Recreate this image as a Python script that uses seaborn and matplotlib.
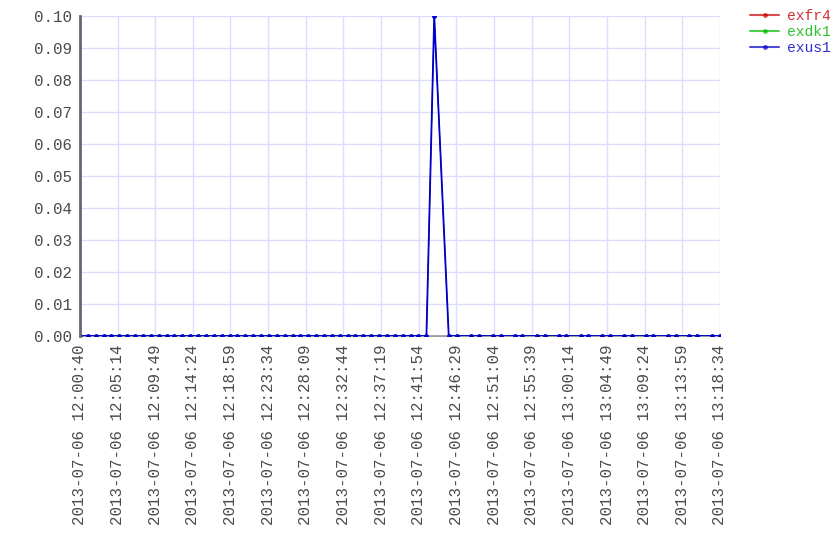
import pandas as pd
import numpy as np
import matplotlib

matplotlib.use("Agg")
import matplotlib.pyplot as plt
from matplotlib.lines import Line2D
import seaborn as sns

sns.set_theme(style="white")
plt.rcParams["font.family"] = ["Liberation Mono", "DejaVu Sans Mono"]

# sample times (2013-07-06)
times = [
    "12:00:40", "12:01:37", "12:02:35", "12:03:32", "12:04:30", "12:05:27",
    "12:06:25", "12:07:22", "12:08:20", "12:09:17", "12:10:15", "12:11:12",
    "12:12:10", "12:13:07", "12:14:05", "12:15:02", "12:16:00", "12:16:57",
    "12:17:55", "12:18:52", "12:19:50", "12:20:47", "12:21:45", "12:22:42",
    "12:23:40", "12:24:37", "12:25:35", "12:26:32", "12:27:30", "12:28:27",
    "12:29:25", "12:30:22", "12:31:20", "12:32:17", "12:33:15", "12:34:12",
    "12:35:10", "12:36:07", "12:37:05", "12:38:02", "12:39:00", "12:39:57",
    "12:40:55", "12:41:52", "12:42:50", "12:43:47", "12:45:33", "12:46:31",
    "12:48:15", "12:49:14", "12:50:54", "12:51:52", "12:53:35", "12:54:30",
    "12:56:15", "12:57:14", "12:58:56", "12:59:52", "13:01:37", "13:02:32",
    "13:04:14", "13:05:11", "13:06:55", "13:07:53", "13:09:34", "13:10:28",
    "13:12:14", "13:13:13", "13:14:51", "13:15:48", "13:17:39", "13:18:34",
]
# every series is zero except a single spike
exus1 = [0.0] * 45 + [0.1] + [0.0] * 26
exfr4 = list(exus1)
exdk1 = list(exus1)

series_names = ["exfr4", "exdk1", "exus1"]
series_colors = ["#cc0000", "#00bb00", "#0000cc"]

tick_labels = [
    "2013-07-06 12:00:40", "2013-07-06 12:05:14", "2013-07-06 12:09:49",
    "2013-07-06 12:14:24", "2013-07-06 12:18:59", "2013-07-06 12:23:34",
    "2013-07-06 12:28:09", "2013-07-06 12:32:44", "2013-07-06 12:37:19",
    "2013-07-06 12:41:54", "2013-07-06 12:46:29", "2013-07-06 12:51:04",
    "2013-07-06 12:55:39", "2013-07-06 13:00:14", "2013-07-06 13:04:49",
    "2013-07-06 13:09:24", "2013-07-06 13:13:59", "2013-07-06 13:18:34",
]

stamps = pd.to_datetime(["2013-07-06 " + t for t in times])
df = pd.concat(
    [
        pd.DataFrame({"time": stamps, "value": vals, "series": name})
        for name, vals in zip(series_names, [exfr4, exdk1, exus1])
    ],
    ignore_index=True,
)

grid_col = "#dcdcff"
text_col = "#4a4a4a"

fig = plt.figure(figsize=(8.4, 5.6), dpi=100)
ax = fig.add_axes([80 / 840, 1 - 336 / 560, 640 / 840, 320 / 560])

# red and green sit underneath blue; draw them thin so they don't tint it
sns.lineplot(
    data=df[df.series != "exus1"], x="time", y="value", hue="series",
    hue_order=series_names[:2], palette=series_colors[:2], marker="o",
    markersize=2, markeredgewidth=0, linewidth=0.6, estimator=None,
    legend=False, ax=ax,
)
sns.lineplot(
    data=df[df.series == "exus1"], x="time", y="value", color=series_colors[2],
    marker="o", markersize=3.5, markeredgewidth=0, linewidth=1.3,
    estimator=None, legend=False, ax=ax,
)

tick_pos = pd.to_datetime(tick_labels)
ax.set_xlim(stamps[0], stamps[-1])
ax.set_xticks(tick_pos)
ax.set_xticklabels(tick_labels, rotation=90)
ax.set_ylim(0, 0.1)
ax.set_yticks(np.arange(0, 0.101, 0.01))
ax.yaxis.set_major_formatter(matplotlib.ticker.FormatStrFormatter("%.2f"))

ax.grid(True, color=grid_col, linewidth=1.0)
ax.set_axisbelow(True)
ax.tick_params(axis="both", colors=grid_col, labelcolor=text_col,
               labelsize=11.3, length=4, width=1, direction="out", pad=2)
ax.set_xlabel("")
ax.set_ylabel("")

for s in ["top", "right"]:
    ax.spines[s].set_visible(False)
ax.spines["left"].set_color("#666677")
ax.spines["left"].set_linewidth(2)
ax.spines["bottom"].set_color("#888888")
ax.spines["bottom"].set_linewidth(1.2)
ax.spines["bottom"].set_zorder(0.5)

handles = [
    Line2D([], [], color=c, marker="o", markersize=3.5, markeredgewidth=0,
           linewidth=1.5, alpha=0.7)
    for c in series_colors
]
leg = fig.legend(
    handles, series_names, loc="upper left",
    bbox_to_anchor=(750 / 840, 1 - 9 / 560), frameon=False,
    fontsize=10.5, handlelength=2.0, handletextpad=0.55, labelspacing=0.15,
    borderaxespad=0, borderpad=0,
)
for txt, c in zip(leg.get_texts(), ["#d03030", "#30c030", "#3030d0"]):
    txt.set_color(c)

fig.savefig("out.png", dpi=100, facecolor="w")
plt.close()
